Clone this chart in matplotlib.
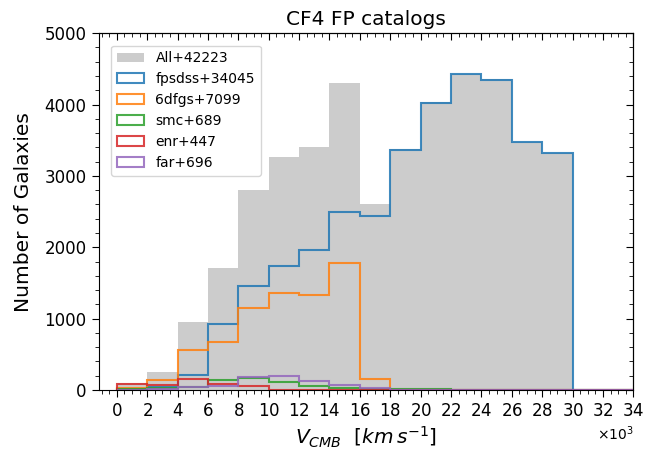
import numpy as np
import matplotlib
matplotlib.use("Agg")
import matplotlib.pyplot as plt
from matplotlib.ticker import MultipleLocator

# bin edges in km/s (2000 km/s bins)
edges = np.arange(0, 36000, 2000)

all_counts = [100, 250, 950, 1710, 2800, 3270, 3400, 4300, 2610, 3380, 4030, 4430, 4355, 3470, 3320, 0, 0]
fpsdss = [10, 40, 215, 922, 1451, 1742, 1966, 2495, 2440, 3366, 4026, 4424, 4349, 3469, 3315, 0, 0]
sixdfgs = [30, 140, 562, 670, 1142, 1358, 1334, 1774, 154, 5, 0, 0, 0, 0, 0, 0, 0]
smc = [15, 30, 45, 140, 173, 108, 61, 33, 12, 10, 8, 6, 5, 4, 3, 0, 0]
enr = [80, 70, 160, 85, 50, 2, 0, 0, 0, 0, 0, 0, 0, 0, 0, 0, 0]
far = [5, 10, 40, 55, 185, 195, 130, 70, 30, 0, 0, 0, 0, 0, 0, 0, 0]

labels = ['All+42223', 'fpsdss+34045', '6dfgs+7099', 'smc+689', 'enr+447', 'far+696']
colors = ['tab:blue', 'tab:orange', 'tab:green', 'tab:red', 'tab:purple']

centers = (edges[:-1] + edges[1:]) / 2

fig = plt.figure(figsize=(6.46, 4.55), dpi=100)
ax = fig.add_axes([0.1525, 0.143, 0.828, 0.784])

ax.hist(centers, bins=edges, weights=all_counts, color='k', alpha=0.2,
        histtype='stepfilled', label=labels[0])
for vals, col, lab in zip([fpsdss, sixdfgs, smc, enr, far], colors, labels[1:]):
    ax.hist(centers, bins=edges, weights=vals, histtype='step', color=col,
            linewidth=1.5, alpha=0.85, label=lab)

ax.set_xlim(-1200, 34000)
ax.set_ylim(0, 5000)
ax.xaxis.set_major_locator(MultipleLocator(2000))
ax.xaxis.set_minor_locator(MultipleLocator(500))
ax.yaxis.set_major_locator(MultipleLocator(1000))
ax.yaxis.set_minor_locator(MultipleLocator(200))
ax.ticklabel_format(axis='x', style='sci', scilimits=(3, 3), useMathText=True)
ax.tick_params(which='both', direction='out', labelsize=12)
ax.tick_params(which='major', length=5)
ax.tick_params(which='minor', length=3)
ax.xaxis.get_offset_text().set_fontsize(10)

top = ax.secondary_xaxis('top')
top.xaxis.set_major_locator(MultipleLocator(2000))
top.xaxis.set_minor_locator(MultipleLocator(500))
top.tick_params(which='both', direction='in', labeltop=False)
top.tick_params(which='major', length=5)
top.tick_params(which='minor', length=3)
right = ax.secondary_yaxis('right')
right.yaxis.set_major_locator(MultipleLocator(1000))
right.yaxis.set_minor_locator(MultipleLocator(200))
right.tick_params(which='both', direction='in', labelright=False)
right.tick_params(which='major', length=5)
right.tick_params(which='minor', length=3)

ax.set_xlabel(r'$V_{CMB}$  $[km\,s^{-1}]$', fontsize=14.5)
ax.set_ylabel('Number of Galaxies', fontsize=14.5, labelpad=8)
ax.set_title('CF4 FP catalogs', fontsize=14.5)
ax.legend(loc='upper left', fontsize=10, borderaxespad=0.9)

fig.savefig('out.png', dpi=100)
